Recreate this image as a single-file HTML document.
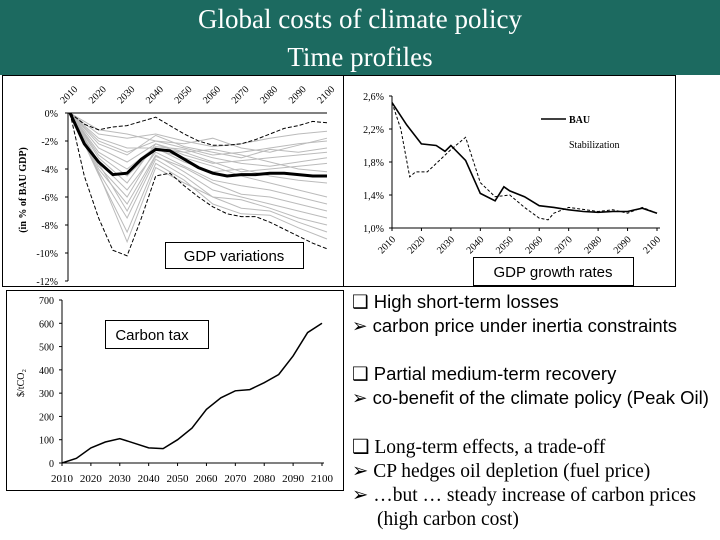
<!DOCTYPE html>
<html><head><meta charset="utf-8"><style>
body{margin:0;width:720px;height:540px;overflow:hidden;background:#fff}
svg{display:block}
.ser{font-family:"Liberation Serif",serif}
.san{font-family:"Liberation Sans",sans-serif}
</style></head><body>
<svg id="s" width="720" height="540" viewBox="0 0 720 540">
<rect x="0" y="0" width="720" height="75" fill="#1c6a60"/>
<text x="360" y="28" text-anchor="middle" class="ser" font-size="27" fill="#fff">Global costs of climate policy</text>
<text x="360" y="66" text-anchor="middle" class="ser" font-size="27" fill="#fff">Time profiles</text>
<rect x="2.5" y="75.5" width="341" height="211" fill="none" stroke="#000"/>
<rect x="343.5" y="75.5" width="332" height="211" fill="none" stroke="#000"/>
<rect x="6.5" y="290.5" width="337" height="200" fill="none" stroke="#000"/>
<g id="c1"></g><g id="c2"></g><g id="c3"></g>
<rect x="165.5" y="242.5" width="138" height="26" fill="#fff" stroke="#000"/>
<text x="234" y="261" text-anchor="middle" class="san" font-size="15">GDP variations</text>
<rect x="473.5" y="257.5" width="160" height="28" fill="#fff" stroke="#000"/>
<text x="553" y="277" text-anchor="middle" class="san" font-size="15">GDP growth rates</text>
<rect x="105.5" y="320.5" width="103" height="28" fill="#fff" stroke="#000"/>
<text x="152" y="340" text-anchor="middle" class="san" font-size="15">Carbon tax</text>
<g>
<text x="352" y="308" class="san" font-size="18.5">❑ High short-term losses</text>
<text x="352" y="332" class="san" font-size="18.5">➢ carbon price under inertia constraints</text>
<text x="352" y="380" class="san" font-size="18.5">❑ Partial medium-term recovery</text>
<text x="352" y="404" class="san" font-size="18.5">➢ co-benefit of the climate policy (Peak Oil)</text>
<text x="352" y="453" class="ser" font-size="19.5">❑ Long-term effects, a trade-off</text>
<text x="352" y="477" class="ser" font-size="19.5">➢  CP hedges oil depletion  (fuel price)</text>
<text x="352" y="501" class="ser" font-size="19.5">➢  …but … steady increase of carbon prices</text>
<text x="377" y="525" class="ser" font-size="19.5">(high carbon cost)</text>
</g>
</svg>
<script>
// Chart 1: GDP variations
const yrs5=[2010,2015,2020,2025,2030,2035,2040,2045,2050,2055,2060,2065,2070,2075,2080,2085,2090,2095,2100];
const yrs10=[2010,2020,2030,2040,2050,2060,2070,2080,2090,2100];
const meanGdp=[0,-2.2,-3.5,-4.4,-4.3,-3.3,-2.6,-2.7,-3.3,-3.9,-4.3,-4.5,-4.4,-4.4,-4.3,-4.3,-4.4,-4.5,-4.5];
const upperGdp=[0,-0.8,-1.2,-1.0,-0.9,-0.6,-0.3,-0.9,-1.5,-2.0,-2.3,-2.3,-2.2,-1.9,-1.5,-1.1,-0.9,-0.6,-0.7];
const lowerGdp=[0,-4.5,-7.5,-9.8,-10.2,-7.5,-4.5,-4.3,-5.2,-6,-6.7,-7.2,-7.4,-7.4,-7.8,-8.3,-8.8,-9.3,-9.7];
const g1=[0,-1.5,-1.8,-1.5,-2,-2.4,-2.2,-1.8,-1.5,-1.3];
const g2=[0,-2,-2.8,-2,-2.5,-3,-2.8,-2.5,-2.2,-2];
const g3=[0,-2.5,-3.5,-2.2,-3,-3.6,-3.4,-3.2,-3,-2.8];
const g4=[0,-3,-4.5,-2.5,-3.5,-4.2,-4,-4.5,-4.8,-5];
const g5=[0,-3.5,-5.5,-2.8,-3.8,-4.8,-5.2,-5.5,-6,-6.5];
const g6=[0,-4,-6.5,-3,-4.2,-5.5,-6,-6.5,-7,-7.5];
const g7=[0,-4.2,-7.5,-3.3,-4.5,-6,-6.8,-7,-7.8,-8.5];
const g8=[0,-4.4,-8.5,-3.6,-4.8,-6.5,-7.2,-7.3,-8.2,-9];
const g9=[0,-1.8,-2.5,-2.5,-2.8,-2.6,-3,-3.5,-4,-4.2];
const g10=[0,-2.8,-4,-2.4,-2.6,-3.2,-3.6,-3.8,-3.5,-3.2];
const g11=[0,-3.8,-6,-2.6,-3.2,-3.8,-4.5,-5,-5.5,-6];
const g12=[0,-1.2,-1.5,-2,-2.2,-1.8,-2.5,-2.8,-2.3,-1.8];
const g13=[0,-3.2,-5,-2.2,-2.8,-3.5,-4.2,-4,-3.8,-3.6];
const g14=[0,-4.3,-9.2,-3.9,-5,-6,-6.2,-6.8,-7.5,-8];
const g15=[0,-2.2,-3,-1.6,-2.4,-2.8,-3.2,-2.6,-2.8,-2.5];
const g16=[0,-3.6,-7,-3.1,-3.9,-5,-5.8,-6,-6.5,-7];
const gdpTicks=[0,-2,-4,-6,-8,-10,-12];
const yearTicks=[2010,2020,2030,2040,2050,2060,2070,2080,2090,2100];
// Chart 2: growth rates
const bauYears=[2010,2015,2020,2025,2028,2030,2035,2040,2045,2048,2050,2055,2060,2065,2070,2075,2080,2085,2090,2095,2100];
const bauVals=[2.52,2.25,2.02,2.0,1.93,2.0,1.82,1.42,1.33,1.5,1.45,1.38,1.27,1.25,1.22,1.2,1.19,1.2,1.2,1.24,1.18];
const stabYears=[2010,2013,2016,2018,2022,2030,2035,2040,2045,2050,2055,2060,2063,2065,2070,2080,2085,2090,2095,2100];
const stabVals=[2.52,2.2,1.62,1.68,1.68,1.95,2.1,1.55,1.38,1.4,1.25,1.12,1.1,1.18,1.25,1.2,1.22,1.18,1.25,1.18];
const growthTicks=[1.0,1.4,1.8,2.2,2.6];
const growthTickLabels=["1,0%","1,4%","1,8%","2,2%","2,6%"];
// Chart 3: carbon tax
const taxVals=[0,20,65,90,105,85,65,62,100,150,230,280,310,315,345,380,460,560,600];
const taxTicks=[0,100,200,300,400,500,600,700];

const NS="http://www.w3.org/2000/svg";
function mk(p,t,a){const e=document.createElementNS(NS,t);for(const k in a)e.setAttribute(k,a[k]);p.appendChild(e);return e;}
function lin(d0,d1,r0,r1){return v=>r0+(v-d0)/(d1-d0)*(r1-r0);}
function pts(xs,ys,X,Y){return xs.map((x,i)=>X(x).toFixed(1)+","+Y(ys[i]).toFixed(1)).join(" ");}

// chart 1
(function(){
const g=document.getElementById('c1');
const X=lin(2010,2100,70,327),Y=lin(0,-12,113,281);
const greys=[g1,g2,g3,g4,g5,g6,g7,g8,g9,g10,g11,g12,g13,g14,g15,g16];
greys.forEach((s,i)=>{const l=mk(g,'polyline',{points:pts(yrs10,s,X,Y),fill:'none',stroke:'#bbb','stroke-width':1});

});
const u=mk(g,'polyline',{points:pts(yrs5,upperGdp,X,Y),fill:'none',stroke:'#000','stroke-width':1,'stroke-dasharray':'4,2'});


const lo=mk(g,'polyline',{points:pts(yrs5,lowerGdp,X,Y),fill:'none',stroke:'#000','stroke-width':1,'stroke-dasharray':'4,2'});


const m=mk(g,'polyline',{points:pts(yrs5,meanGdp,X,Y),fill:'none',stroke:'#000','stroke-width':3});


const ax=mk(g,'line',{x1:68,y1:113,x2:68,y2:281,stroke:'#000'});


const tx=mk(g,'line',{x1:68,y1:113,x2:327,y2:113,stroke:'#000'});


gdpTicks.forEach(v=>{const t=mk(g,'text',{x:58,y:Y(v)+4,'text-anchor':'end','font-size':10,'font-family':'Liberation Serif,serif'});t.textContent=v+'%';


mk(g,'line',{x1:65,x2:68,y1:Y(v),y2:Y(v),stroke:'#000'});});
yearTicks.forEach(v=>{const t=mk(g,'text',{x:X(v)-6,y:104,'font-size':10,'font-family':'Liberation Serif,serif',transform:`rotate(-45 ${X(v)-6} 104)`});t.textContent=v;

});
const yl=mk(g,'text',{x:26,y:190,'text-anchor':'middle','font-size':10,'font-weight':'bold','font-family':'Liberation Serif,serif',transform:'rotate(-90 26 190)'});yl.textContent='(in % of BAU GDP)';


})();

// chart 2
(function(){
const g=document.getElementById('c2');
const X=lin(2010,2100,392,657),Y=lin(1.0,2.6,228,96);
mk(g,'line',{x1:392,y1:96,x2:392,y2:228,stroke:'#000'});
mk(g,'line',{x1:392,y1:228,x2:660,y2:228,stroke:'#000'});
growthTicks.forEach((v,i)=>{const t=mk(g,'text',{x:384,y:Y(v)+4,'text-anchor':'end','font-size':10,'font-family':'Liberation Serif,serif'});t.textContent=growthTickLabels[i];


mk(g,'line',{x1:389,x2:392,y1:Y(v),y2:Y(v),stroke:'#000'});});
yearTicks.forEach(v=>{const t=mk(g,'text',{x:X(v)+4,y:240,'text-anchor':'end','font-size':10,'font-family':'Liberation Serif,serif',transform:`rotate(-45 ${X(v)+4} 240)`});t.textContent=v;


mk(g,'line',{x1:X(v),x2:X(v),y1:228,y2:231,stroke:'#000'});});
const s=mk(g,'polyline',{points:pts(stabYears,stabVals,X,Y),fill:'none',stroke:'#000','stroke-width':1,'stroke-dasharray':'3,2'});


const b=mk(g,'polyline',{points:pts(bauYears,bauVals,X,Y),fill:'none',stroke:'#000','stroke-width':1.6});


mk(g,'line',{x1:541,y1:119,x2:566,y2:119,stroke:'#000','stroke-width':1.5});
const l1=mk(g,'text',{x:569,y:123,'font-size':10,'font-weight':'bold','font-family':'Liberation Serif,serif'});l1.textContent='BAU';


const l2=mk(g,'text',{x:569,y:148,'font-size':10,'font-family':'Liberation Serif,serif'});l2.textContent='Stabilization';


})();

// chart 3
(function(){
const g=document.getElementById('c3');
const X=lin(2010,2100,62,322),Y=lin(0,700,463,300);
mk(g,'line',{x1:62,y1:300,x2:62,y2:463,stroke:'#000'});
mk(g,'line',{x1:62,y1:463,x2:324,y2:463,stroke:'#000'});
taxTicks.forEach(v=>{const t=mk(g,'text',{x:54,y:Y(v)+4,'text-anchor':'end','font-size':10,'font-family':'Liberation Serif,serif'});t.textContent=v;


mk(g,'line',{x1:59,x2:62,y1:Y(v),y2:Y(v),stroke:'#000'});});
yearTicks.forEach(v=>{const t=mk(g,'text',{x:X(v),y:482,'text-anchor':'middle','font-size':11,'font-family':'Liberation Serif,serif'});t.textContent=v;


mk(g,'line',{x1:X(v),x2:X(v),y1:463,y2:466,stroke:'#000'});});
const p=mk(g,'polyline',{points:pts(yrs5,taxVals,X,Y),fill:'none',stroke:'#000','stroke-width':1.5});


const yl=mk(g,'text',{x:24,y:383,'text-anchor':'middle','font-size':10,'font-family':'Liberation Serif,serif',transform:'rotate(-90 24 383)'});yl.textContent='$/tCO₂';


})();
</script>
</body></html>
